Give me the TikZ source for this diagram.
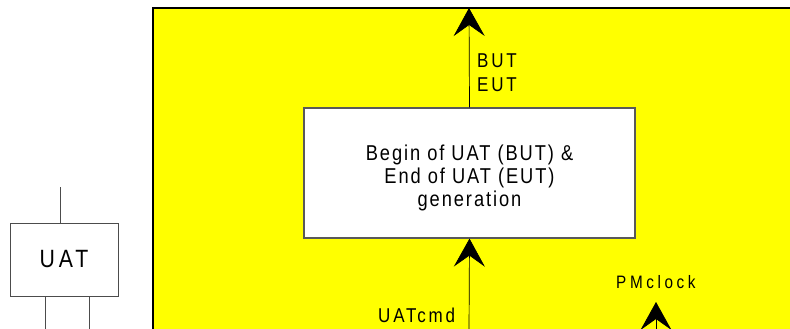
\documentclass[tikz,border=0pt]{standalone}
\usepackage{fontspec}
\setmainfont{Liberation Sans}[FakeStretch=0.85, LetterSpace=10]
\usetikzlibrary{arrows.meta}
\definecolor{panelyellow}{RGB}{255,255,0}
\tikzset{
    blockbox/.style={draw=black!65, line width=1.2pt, fill=white, inner sep=0pt},
    sig/.style={line width=0.7pt, -{Stealth[length=28pt, width=31pt, inset=11pt]}},
    lbl/.style={inner sep=0pt, anchor=base west, font=\fontsize{20}{24}\selectfont\addfontfeature{LetterSpace=14}},
}
\begin{document}
\begin{tikzpicture}[x=1pt, y=-1pt]
                    \useasboundingbox (0,0) rectangle (790,329);
                    \fill[white] (0,0) rectangle (790,329);
                    \filldraw[fill=panelyellow, draw=black, line width=1.5pt] (153,8) rectangle (800,340);

                    \node[blockbox, minimum width=331, minimum height=130] (gen) at (469.5,173) {};
                    \node[inner sep=0pt, align=center, font=\fontsize{21.5}{23}\selectfont\addfontfeature{LetterSpace=9}]
                          (gentext) at ([yshift=-5pt]gen.center) {Begin of UAT (BUT) \&\\End of UAT (EUT)\\generation};
                    \coordinate (genout) at (469,8);
                    \coordinate (cmdin)  at (469,332);
                    \draw[sig] (gen.north) -- (genout);
                    \draw[sig] (cmdin) -- (gen.south);
                    \node[lbl] (but) at (477,67) {BUT};
                    \node[lbl] (eut) at (477,92) {EUT};
                    \node[lbl] (cmd) at (378,322) {UATcmd};

                    \coordinate (pmin)  at (656,332);
                    \coordinate (pmtip) at (656,302);
                    \draw[sig] (pmin) -- (pmtip);
                    \node[lbl, font=\fontsize{18}{20}\selectfont\addfontfeature{LetterSpace=20}] (pm) at (616,288) {PMclock};

                    \node[draw=black!70, line width=0.8pt, minimum width=108, minimum height=73, inner sep=0pt,
                          font=\fontsize{25}{28}\selectfont\addfontfeature{LetterSpace=16}]
                          (uat) at (64,259.5) {UAT};
                    \coordinate (uatin)  at (60,187);
                    \coordinate (uatlo)  at (45,332);
                    \coordinate (uatro)  at (89,332);
                    \draw[black!70, line width=0.8pt] (uat.north -| uatin) -- (uatin);
                    \draw[black!70, line width=0.8pt] (uat.south -| uatlo) -- (uatlo);
                    \draw[black!70, line width=0.8pt] (uat.south -| uatro) -- (uatro);
\end{tikzpicture}
\end{document}
